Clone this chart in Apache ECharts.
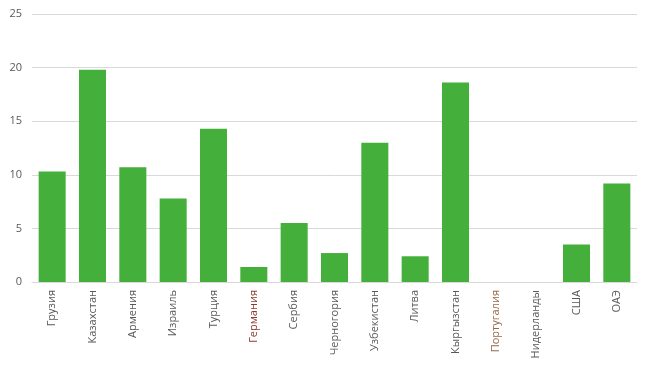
<!DOCTYPE html>
<html>
<head>
<meta charset="utf-8">
<script src="https://cdn.jsdelivr.net/npm/echarts@6/dist/echarts.min.js"></script>
<style>html,body{margin:0;padding:0;background:#fff;}#c{width:652px;height:365px;}</style>
</head>
<body>
<div id="c"></div>
<script>
var categories = ['Грузия','Казахстан','Армения','Израиль','Турция','Германия','Сербия','Черногория','Узбекистан','Литва','Кыргызстан','Португалия','Нидерланды','США','ОАЭ'];
var values = [10.3, 19.8, 10.7, 7.8, 14.3, 1.4, 5.5, 2.7, 13.0, 2.4, 18.6, 0, 0, 3.5, 9.2];
var yTicks = [0, 5, 10, 15, 20, 25];

var labelColors = { 'Германия': '#8a3b2c', 'Португалия': '#9a6a48' };

var chart = echarts.init(document.getElementById('c'));
chart.setOption({
  animation: false,
  grid: { left: 32, right: 15, top: 14, bottom: 83, containLabel: false },
  xAxis: {
    type: 'category',
    data: categories,
    axisLine: { show: true, lineStyle: { color: '#d9d9d9' } },
    axisTick: { show: false },
    axisLabel: {
      rotate: 90,
      interval: 0,
      fontFamily: 'Open Sans, DejaVu Sans, sans-serif',
      fontSize: 11,
      margin: 8,
      color: function (v) { return labelColors[v] || '#595959'; }
    }
  },
  yAxis: {
    type: 'value',
    min: yTicks[0],
    max: yTicks[yTicks.length - 1],
    interval: 5,
    axisLine: { show: false },
    axisTick: { show: false },
    splitLine: { lineStyle: { color: '#d9d9d9' } },
    axisLabel: { color: '#595959', fontSize: 11, margin: 10, fontFamily: 'Open Sans, DejaVu Sans, sans-serif' }
  },
  series: [{
    type: 'bar',
    data: values,
    barCategoryGap: '33%',
    itemStyle: { color: '#44AF3A' }
  }]
});
</script>
</body>
</html>
